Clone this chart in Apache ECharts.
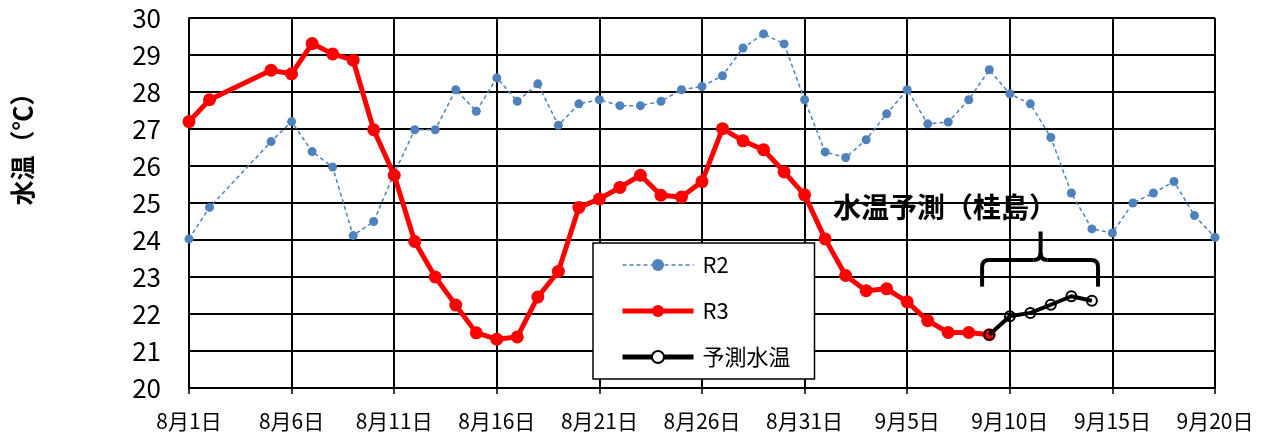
<!DOCTYPE html>
<html><head><meta charset="utf-8">
<script src="https://cdn.jsdelivr.net/npm/echarts@6/dist/echarts.min.js"></script>
<style>html,body{margin:0;padding:0;background:#fff;}#c{width:1270px;height:435px;}</style>
</head><body><div id="c"></div>
<script>
// Categories: 8月1日 .. 9月20日 (51 days)
const categories = [];
for (let d = 0; d <= 50; d++) {
  categories.push(d <= 30 ? ('8月' + (d + 1) + '日') : ('9月' + (d - 30) + '日'));
}
const yTicks = [20, 21, 22, 23, 24, 25, 26, 27, 28, 29, 30];

const r2 = [24.03, 24.88, null, null, 26.66, 27.2, 26.39, 25.97, 24.12, 24.5,
  25.8, 26.98, 26.98, 28.06, 27.48, 28.38, 27.75, 28.22, 27.1, 27.68,
  27.79, 27.63, 27.63, 27.75, 28.06, 28.15, 28.44, 29.19, 29.57, 29.3,
  27.79, 26.38, 26.23, 26.71, 27.41, 28.06, 27.14, 27.19, 27.79, 28.6,
  27.95, 27.68, 26.77, 25.27, 24.3, 24.19, 25.0, 25.27, 25.58, 24.66, 24.07];

const r3 = [27.2, 27.79, null, null, 28.59, 28.49, 29.31, 29.03, 28.86, 26.98,
  25.75, 23.96, 23.0, 22.24, 21.49, 21.32, 21.38, 22.46, 23.15, 24.88,
  25.11, 25.42, 25.75, 25.21, 25.16, 25.58, 27.01, 26.68, 26.44, 25.84,
  25.22, 24.03, 23.04, 22.63, 22.68, 22.33, 21.82, 21.5, 21.5, 21.44,
  null, null, null, null, null, null, null, null, null, null, null];

const forecast = [null, null, null, null, null, null, null, null, null, null,
  null, null, null, null, null, null, null, null, null, null,
  null, null, null, null, null, null, null, null, null, null,
  null, null, null, null, null, null, null, null, null, 21.44,
  21.94, 22.03, 22.25, 22.48, 22.36, null, null, null, null, null, null];

const seriesNames = ['R2', 'R3', '予測水温'];
const yAxisTitle = '水温（℃）';
const annotationText = '水温予測（桂島）';
// annotation anchors in data units (day index, value)
const annoTextAt = [31.38, 24.87];
const brace = { x0: 38.65, x1: 44.3, xc: 41.5, yBottom: 22.74, yBar: 23.46, yTop: 24.23 };

const FONT = '"Noto Sans CJK JP", "Noto Sans", sans-serif';

const chart = echarts.init(document.getElementById('c'), null, { renderer: 'canvas' });
const option = {
  animation: false,
  backgroundColor: '#fff',
  grid: { left: 189, right: 55, top: 18, bottom: 47, containLabel: false },
  legend: {
    orient: 'vertical', left: 593, top: 243,
    padding: [11, 24, 11, 27],
    itemWidth: 71, itemHeight: 15, itemGap: 24,
    backgroundColor: '#fff', borderColor: '#000', borderWidth: 1.5,
    textStyle: { fontSize: 22, color: '#000', fontFamily: FONT, padding: [0, 0, 0, 4] },
    data: [
      { name: seriesNames[0], lineStyle: { color: '#4F81BD', width: 1.5, type: [4, 3] } },
      { name: seriesNames[1], lineStyle: { color: '#FF0000', width: 5 } },
      { name: seriesNames[2], itemStyle: { color: '#fff', borderColor: '#000', borderWidth: 2 }, lineStyle: { color: '#000', width: 5 } }
    ]
  },
  xAxis: {
    type: 'category', data: categories, boundaryGap: false,
    axisLine: { lineStyle: { color: '#000', width: 2 } },
    axisTick: { show: true, interval: 4, length: 6, lineStyle: { color: '#000', width: 1.5 } },
    axisLabel: { interval: 4, margin: 23, fontSize: 21, color: '#000', fontFamily: FONT },
    splitLine: { show: true, interval: 4, lineStyle: { color: '#000', width: 2 } }
  },
  yAxis: {
    type: 'value', min: yTicks[0], max: yTicks[yTicks.length - 1], interval: 1,
    axisLine: { show: true, lineStyle: { color: '#000', width: 2 } },
    axisTick: { show: false },
    axisLabel: { margin: 28, fontSize: 26, color: '#000', fontFamily: FONT },
    splitLine: { show: true, lineStyle: { color: '#000', width: 2 } }
  },
  series: [
    {
      name: seriesNames[0], type: 'line', data: r2, connectNulls: true,
      symbol: 'circle', symbolSize: 9, showAllSymbol: true,
      itemStyle: { color: '#4F81BD' },
      lineStyle: { color: '#4F81BD', width: 1.5, type: [4, 3] },
      z: 2
    },
    {
      name: seriesNames[1], type: 'line', data: r3, connectNulls: true,
      symbol: 'circle', symbolSize: 13, showAllSymbol: true,
      itemStyle: { color: '#FF0000' },
      lineStyle: { color: '#FF0000', width: 5 },
      z: 3
    },
    {
      name: seriesNames[2], type: 'line', data: forecast,
      symbol: 'circle', symbolSize: 10, showAllSymbol: true,
      itemStyle: { color: 'rgba(0,0,0,0)', borderColor: '#000', borderWidth: 2 },
      lineStyle: { color: '#000', width: 4 },
      z: 4
    }
  ]
};
chart.setOption(option);

const xa = chart.convertToPixel({ xAxisIndex: 0 }, 0);
const xb = chart.convertToPixel({ xAxisIndex: 0 }, 50);
const px = d => xa + (xb - xa) * d / 50;
const py = v => chart.convertToPixel({ yAxisIndex: 0 }, v);

const bl = px(brace.x0), br = px(brace.x1), bc = px(brace.xc);
const yb = py(brace.yBottom), yh = py(brace.yBar), yt = py(brace.yTop);
const r = 7;
const bStyle = { stroke: '#000', lineWidth: 4, fill: null, lineCap: 'butt' };
const segs = [
  { type: 'line', shape: { x1: bl, y1: yb, x2: bl, y2: yh + r } },
  { type: 'bezierCurve', shape: { x1: bl, y1: yh + r, cpx1: bl, cpy1: yh, x2: bl + r, y2: yh } },
  { type: 'line', shape: { x1: bl + r, y1: yh, x2: bc - r, y2: yh } },
  { type: 'bezierCurve', shape: { x1: bc - r, y1: yh, cpx1: bc, cpy1: yh, x2: bc, y2: yh - r } },
  { type: 'line', shape: { x1: bc, y1: yh - r, x2: bc, y2: yt } },
  { type: 'bezierCurve', shape: { x1: bc, y1: yh - r, cpx1: bc, cpy1: yh, x2: bc + r, y2: yh } },
  { type: 'line', shape: { x1: bc + r, y1: yh, x2: br - r, y2: yh } },
  { type: 'bezierCurve', shape: { x1: br - r, y1: yh, cpx1: br, cpy1: yh, x2: br, y2: yh + r } },
  { type: 'line', shape: { x1: br, y1: yh + r, x2: br, y2: yb } }
].map(s => Object.assign(s, { z: 10, style: bStyle }));

chart.setOption({
  graphic: [
    {
      type: 'text', x: 22, y: 143, rotation: Math.PI / 2, z: 10,
      style: { text: yAxisTitle, fontSize: 25, fontWeight: 'bold', fontFamily: FONT, fill: '#000', align: 'center', verticalAlign: 'middle' }
    },
    {
      type: 'text', x: px(annoTextAt[0]), y: py(annoTextAt[1]), z: 10,
      style: { text: annotationText, fontSize: 28, fontWeight: 'bold', fontFamily: FONT, fill: '#000', align: 'left', verticalAlign: 'middle' }
    }
  ].concat(segs)
});
</script>
</body></html>
